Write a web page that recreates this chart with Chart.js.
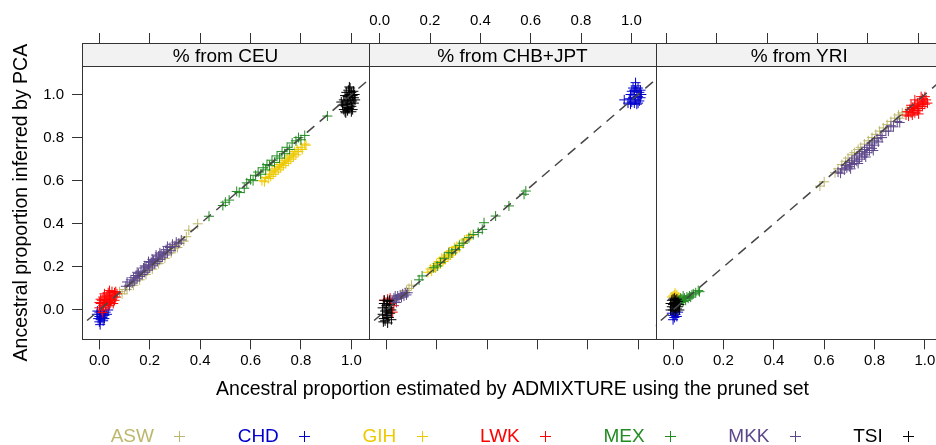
<!DOCTYPE html>
<html>
<head>
<meta charset="utf-8">
<script src="https://cdn.jsdelivr.net/npm/chart.js@4.4.0/dist/chart.umd.min.js"></script>
<style>
  html, body { margin: 0; padding: 0; overflow: hidden; background: #fff; }
  #wrap { position: relative; width: 936px; height: 445px; }
</style>
</head>
<body>
<div id="wrap"><canvas id="chart" width="936" height="445"></canvas></div>
<script>
// groups, colours and panels
const populations = ["ASW", "CHD", "GIH", "LWK", "MEX", "MKK", "TSI"];
const popColors = ["#BDB76B", "#0000CD", "#EEC900", "#FF0000", "#228B22", "#5D478B", "#000000"];
const panelNames = ["% from CEU", "% from CHB+JPT", "% from YRI"];
const xTicks = [0, 0.2, 0.4, 0.6, 0.8, 1.0];
const yTicks = [0, 0.2, 0.4, 0.6, 0.8, 1.0];
const refLine = [-0.1, 1.1];

// [ADMIXTURE estimate, PCA estimate] per individual
const ceuASW = [[0.065,0.06],[0.08,0.085],[0.09,0.075],[0.1,0.095],[0.11,0.095],[0.12,0.11],[0.135,0.115],[0.145,0.135],[0.16,0.14],[0.17,0.16],[0.185,0.165],[0.195,0.185],[0.21,0.19],[0.22,0.21],[0.235,0.215],[0.245,0.235],[0.26,0.24],[0.27,0.26],[0.285,0.265],[0.295,0.285],[0.31,0.29],[0.32,0.31],[0.335,0.32],[0.345,0.34],[0.355,0.37],[0.39,0.4],[0.3,0.3],[0.2,0.2]];
const ceuCHD = [[-0.01,-0.02],[-0.005,-0.04],[0.0,-0.01],[0.0,-0.03],[0.0,-0.055],[0.005,-0.02],[0.005,-0.045],[0.01,-0.005],[0.01,-0.035],[0.015,-0.015],[0.015,-0.05],[0.02,-0.025],[0.02,-0.04],[0.025,-0.01],[0.03,-0.02],[0.003,-0.068],[-0.008,-0.005],[0.035,0.0]];
const ceuGIH = [[0.645,0.6],[0.655,0.595],[0.66,0.615],[0.67,0.61],[0.675,0.63],[0.68,0.62],[0.685,0.645],[0.69,0.63],[0.695,0.655],[0.7,0.64],[0.705,0.665],[0.71,0.65],[0.715,0.675],[0.72,0.66],[0.725,0.685],[0.73,0.67],[0.735,0.695],[0.74,0.68],[0.745,0.705],[0.75,0.69],[0.755,0.715],[0.76,0.7],[0.765,0.725],[0.77,0.71],[0.775,0.735],[0.78,0.72],[0.785,0.745],[0.79,0.735],[0.8,0.755],[0.805,0.745],[0.815,0.77],[0.82,0.765]];
const ceuLWK = [[0.0,0.01],[0.005,0.03],[0.01,0.0],[0.01,0.045],[0.015,0.02],[0.015,0.06],[0.02,0.035],[0.02,0.075],[0.025,0.01],[0.025,0.05],[0.03,0.065],[0.03,0.025],[0.035,0.04],[0.035,0.08],[0.04,0.055],[0.04,0.02],[0.045,0.07],[0.045,0.035],[0.05,0.085],[0.05,0.05],[0.055,0.065],[0.055,0.03],[0.06,0.08],[0.06,0.045],[0.065,0.06],[0.07,0.075],[0.005,0.05],[0.0,0.035],[0.012,-0.012],[0.03,0.045],[0.04,0.09],[0.065,0.085]];
const ceuMEX = [[0.435,0.435],[0.49,0.485],[0.5,0.5],[0.515,0.51],[0.545,0.55],[0.555,0.545],[0.575,0.565],[0.585,0.59],[0.6,0.605],[0.61,0.6],[0.62,0.625],[0.63,0.64],[0.64,0.63],[0.65,0.66],[0.66,0.65],[0.665,0.675],[0.675,0.67],[0.685,0.695],[0.695,0.685],[0.705,0.715],[0.715,0.705],[0.725,0.735],[0.735,0.725],[0.745,0.755],[0.755,0.745],[0.765,0.775],[0.78,0.785],[0.79,0.8],[0.8,0.79],[0.815,0.81],[0.905,0.9]];
const ceuMKK = [[0.105,0.11],[0.11,0.13],[0.12,0.115],[0.125,0.14],[0.13,0.125],[0.135,0.15],[0.14,0.135],[0.145,0.16],[0.15,0.145],[0.155,0.17],[0.16,0.155],[0.165,0.18],[0.17,0.165],[0.175,0.195],[0.18,0.175],[0.185,0.2],[0.19,0.185],[0.195,0.21],[0.2,0.195],[0.205,0.22],[0.21,0.205],[0.215,0.23],[0.22,0.215],[0.225,0.24],[0.23,0.225],[0.235,0.25],[0.24,0.235],[0.245,0.26],[0.25,0.245],[0.255,0.27],[0.26,0.255],[0.265,0.28],[0.27,0.265],[0.28,0.29],[0.285,0.275],[0.29,0.305],[0.3,0.295],[0.305,0.315],[0.315,0.31],[0.325,0.325],[0.15,0.175],[0.18,0.205],[0.21,0.235],[0.24,0.265],[0.27,0.295],[0.195,0.225],[0.225,0.255]];
const ceuTSI = [[0.965,0.95],[0.97,0.975],[0.97,0.93],[0.975,0.995],[0.975,0.955],[0.978,0.915],[0.98,1.01],[0.98,0.97],[0.982,0.94],[0.985,0.99],[0.985,0.955],[0.988,1.02],[0.99,0.975],[0.99,0.935],[0.993,1.0],[0.995,0.96],[0.995,1.03],[0.998,0.985],[1.0,0.945],[1.0,1.01],[1.003,0.97],[1.005,0.995],[1.005,0.93],[1.008,1.015],[1.01,0.96],[1.01,0.985],[1.013,1.0],[1.015,0.975],[0.985,0.925],[0.96,0.965],[1.0,0.92],[0.992,1.035],[0.975,0.92]];

const chbASW = [[0.06,0.07],[0.08,0.09],[0.09,0.1],[0.1,0.115],[0.035,0.05]];
const chbCHD = [[0.965,0.98],[0.97,1.0],[0.975,0.965],[0.975,1.015],[0.98,0.985],[0.98,1.03],[0.985,0.96],[0.985,1.0],[0.99,1.04],[0.99,0.975],[0.995,1.015],[0.995,0.955],[1.0,0.99],[1.0,1.03],[1.005,0.97],[1.005,1.01],[1.01,0.985],[1.01,1.02],[1.013,1.0],[0.99,1.055],[0.945,0.975],[0.96,0.96],[0.97,0.955],[1.0,0.96],[0.985,1.02]];
const chbGIH = [[0.165,0.175],[0.175,0.19],[0.18,0.18],[0.19,0.205],[0.195,0.195],[0.2,0.215],[0.205,0.205],[0.21,0.225],[0.215,0.215],[0.22,0.24],[0.225,0.225],[0.23,0.245],[0.235,0.235],[0.24,0.255],[0.245,0.245],[0.25,0.27],[0.255,0.255],[0.26,0.275],[0.265,0.265],[0.27,0.29],[0.275,0.275],[0.28,0.295],[0.29,0.29],[0.3,0.31],[0.31,0.325],[0.32,0.33],[0.335,0.345]];
const chbLWK = [[0.005,0.05],[-0.01,0.045],[0.025,-0.01],[0.015,0.055],[0.03,0.02],[0.02,0.03]];
const chbMEX = [[0.13,0.14],[0.142,0.158],[0.188,0.196],[0.202,0.204],[0.215,0.22],[0.23,0.24],[0.248,0.266],[0.26,0.265],[0.275,0.28],[0.29,0.3],[0.305,0.31],[0.328,0.336],[0.345,0.35],[0.365,0.36],[0.381,0.374],[0.388,0.405],[0.434,0.436],[0.487,0.483],[0.547,0.537],[0.554,0.552]];
const chbMKK = [[0.025,0.04],[0.03,0.055],[0.04,0.05],[0.045,0.065],[0.05,0.055],[0.055,0.07],[0.06,0.06],[0.065,0.075],[0.07,0.065],[0.075,0.08],[0.08,0.07],[0.085,0.08],[0.04,0.035],[0.035,0.065]];
const chbTSI = [[-0.015,-0.02],[-0.015,0.01],[-0.01,-0.04],[-0.01,0.03],[-0.005,-0.005],[-0.005,-0.05],[0.0,0.02],[0.0,-0.025],[0.005,0.04],[0.005,-0.01],[0.005,-0.06],[0.01,0.01],[0.01,-0.035],[0.015,0.025],[0.015,-0.015],[0.02,0.0],[0.02,-0.045],[-0.012,-0.055],[0.0,0.0],[0.012,0.045],[-0.008,0.045]];

const yriASW = [[0.583,0.575],[0.6,0.595],[0.643,0.637],[0.655,0.655],[0.67,0.675],[0.685,0.69],[0.695,0.705],[0.71,0.72],[0.72,0.73],[0.735,0.745],[0.745,0.755],[0.76,0.77],[0.775,0.785],[0.79,0.8],[0.805,0.815],[0.82,0.83],[0.835,0.845],[0.85,0.86],[0.865,0.875],[0.88,0.89],[0.895,0.905],[0.91,0.915],[0.925,0.92],[0.9,0.89]];
const yriCHD = [[-0.005,-0.015],[0.0,-0.025],[0.005,-0.035],[0.01,-0.02],[0.015,-0.03],[0.0,-0.045],[0.02,-0.01],[0.008,-0.01]];
const yriGIH = [[-0.005,0.06],[0.0,0.065],[0.005,0.07],[0.01,0.06],[0.015,0.07],[0.02,0.06],[0.008,0.078]];
const yriLWK = [[0.925,0.905],[0.93,0.92],[0.935,0.9],[0.94,0.93],[0.945,0.915],[0.95,0.94],[0.95,0.905],[0.955,0.925],[0.96,0.95],[0.96,0.915],[0.965,0.935],[0.97,0.96],[0.97,0.925],[0.975,0.945],[0.98,0.97],[0.98,0.935],[0.985,0.955],[0.99,0.98],[0.99,0.945],[0.995,0.965],[1.0,0.99],[1.0,0.955],[1.005,0.975],[1.01,0.96],[0.96,0.975],[0.945,0.95],[0.985,0.99],[0.975,0.91]];
const yriMEX = [[0.02,0.03],[0.025,0.045],[0.03,0.035],[0.035,0.05],[0.04,0.04],[0.045,0.055],[0.05,0.045],[0.055,0.06],[0.06,0.055],[0.065,0.065],[0.07,0.06],[0.075,0.07],[0.08,0.075],[0.09,0.08],[0.1,0.09],[0.105,0.085],[0.04,0.065],[0.03,0.055]];
const yriMKK = [[0.655,0.64],[0.665,0.635],[0.67,0.655],[0.68,0.65],[0.685,0.67],[0.69,0.66],[0.7,0.685],[0.7,0.665],[0.71,0.695],[0.71,0.675],[0.72,0.705],[0.72,0.68],[0.73,0.715],[0.73,0.69],[0.74,0.725],[0.74,0.7],[0.75,0.735],[0.75,0.71],[0.76,0.745],[0.76,0.72],[0.77,0.755],[0.77,0.73],[0.78,0.765],[0.78,0.74],[0.79,0.775],[0.79,0.75],[0.8,0.785],[0.8,0.765],[0.81,0.795],[0.815,0.78],[0.825,0.81],[0.83,0.8],[0.845,0.83],[0.855,0.83],[0.865,0.855],[0.875,0.85],[0.89,0.875],[0.9,0.87],[0.735,0.68],[0.765,0.71],[0.795,0.74],[0.705,0.655]];
const yriTSI = [[-0.01,0.0],[-0.01,0.03],[-0.005,0.015],[-0.005,0.045],[0.0,0.0],[0.0,0.025],[0.0,0.05],[0.005,0.01],[0.005,0.035],[0.01,-0.005],[0.01,0.02],[0.01,0.045],[0.015,0.005],[0.015,0.03],[0.02,0.015],[0.02,0.04],[0.025,0.025],[0.005,0.055],[0.015,0.05],[0.025,0.0]];

const panelData = [
  [ceuASW, ceuCHD, ceuGIH, ceuLWK, ceuMEX, ceuMKK, ceuTSI],
  [chbASW, chbCHD, chbGIH, chbLWK, chbMEX, chbMKK, chbTSI],
  [yriASW, yriCHD, yriGIH, yriLWK, yriMEX, yriMKK, yriTSI]
];

const FONT = '"Liberation Sans", Arial, Helvetica, sans-serif';
Chart.defaults.font.family = FONT;
Chart.defaults.color = "#000";

// the third panel runs a little past the right edge of the page, so it gets less width
const panelWidths = [287, 286.7, 280.3];
const xMin = -0.069;
const xMaxes = [1.07, 1.07, 1.044];
const yMin = -0.136, yMax = 1.239;   // top part of the y range sits under the strips
const STRIP_H = 23;
const FRAME = "#333";

function noPadding(s) {
  s.paddingLeft = 0; s.paddingRight = 0; s.paddingTop = 0; s.paddingBottom = 0;
}

function xAxis(p, pos, showLabels) {
  return {
    type: "linear",
    position: pos,
    stack: pos,
    stackWeight: panelWidths[p],
    min: xMin,
    max: xMaxes[p],
    afterBuildTicks: s => { s.ticks = xTicks.map(v => ({ value: v })); },
    afterFit: s => { s.height = pos === "top" ? 43 : 105.7; noPadding(s); },
    ticks: {
      display: showLabels,
      font: { size: 15 },
      color: "#000",
      padding: 3,
      maxRotation: 0,
      autoSkip: false,
      callback: v => v.toFixed(1)
    },
    grid: { drawOnChartArea: false, drawTicks: true, tickLength: 10, tickColor: FRAME, tickWidth: 1 },
    border: { display: true, color: FRAME, width: 1 }
  };
}

const datasets = [];
panelData.forEach((groups, p) => {
  groups.forEach((pts, g) => {
    datasets.push({
      label: populations[g],
      xAxisID: "x" + (p + 1),
      yAxisID: "y",
      data: pts.map(d => ({ x: d[0], y: d[1] })),
      pointStyle: "cross",
      pointRadius: 5,
      borderWidth: 1,
      borderColor: popColors[g],
      backgroundColor: popColors[g],
      order: populations.length - g,
      clip: 0
    });
  });
  datasets.push({
    label: "y = x",
    xAxisID: "x" + (p + 1),
    yAxisID: "y",
    data: refLine.map(v => ({ x: v, y: v })),
    showLine: true,
    pointRadius: 0,
    borderColor: "#474747",
    borderWidth: 1.5,
    borderDash: [10, 7],
    order: 0,
    clip: 0
  });
});

const latticeDecor = {
  id: "latticeDecor",
  afterDraw(chart) {
    const ctx = chart.ctx;
    const area = chart.chartArea;
    const t = Math.round(area.top) + 0.5;
    const b = Math.round(area.bottom) + 0.5;
    const sb = Math.round(area.top + STRIP_H) + 0.5;
    ctx.save();
    panelNames.forEach((name, i) => {
      const sc = chart.scales["x" + (i + 1)];
      const l = Math.round(sc.left) + 0.5;
      const r = Math.round(sc.right) + 0.5;
      // strip centred on the full panel width, as if the last panel were not cut
      const fullRight = sc.left + panelWidths[0];
      ctx.fillStyle = "#f2f2f2";
      ctx.fillRect(l, t, r - l, sb - t);
      ctx.strokeStyle = FRAME;
      ctx.lineWidth = 1;
      ctx.strokeRect(l, t, r - l, b - t);
      ctx.beginPath();
      ctx.moveTo(l, sb);
      ctx.lineTo(r, sb);
      ctx.stroke();
      ctx.fillStyle = "#000";
      ctx.font = "19px " + FONT;
      ctx.textAlign = "center";
      ctx.textBaseline = "alphabetic";
      ctx.fillText(name, (sc.left + fullRight) / 2, area.top + 18.7);
    });

    // axis titles
    const fullArea = area.left + panelWidths[0] * 3;
    ctx.font = "19.5px " + FONT;
    ctx.fillStyle = "#000";
    ctx.textAlign = "center";
    ctx.fillText("Ancestral proportion estimated by ADMIXTURE using the pruned set",
      (area.left + fullArea) / 2, area.bottom + 55.7);
    ctx.save();
    ctx.translate(26.7, (area.top + STRIP_H + area.bottom) / 2);
    ctx.rotate(-Math.PI / 2);
    ctx.fillText("Ancestral proportion inferred by PCA", 0, 0);
    ctx.restore();

    // key: name then a "+" symbol, one column per group
    ctx.font = "19px " + FONT;
    let x = 110.7;
    const base = 442.3;
    ctx.textAlign = "left";
    ctx.lineWidth = 1;
    populations.forEach((name, g) => {
      ctx.fillStyle = popColors[g];
      ctx.strokeStyle = popColors[g];
      ctx.fillText(name, x, base);
      const w = ctx.measureText(name).width;
      const cx = Math.round(x + w + 25.5) + 0.5;
      const cy = Math.round(base - 6.5) + 0.5;
      ctx.beginPath();
      ctx.moveTo(cx - 5.5, cy); ctx.lineTo(cx + 5.5, cy);
      ctx.moveTo(cx, cy - 5.5); ctx.lineTo(cx, cy + 5.5);
      ctx.stroke();
      x += w + 83.7;
    });
    ctx.restore();
  }
};

new Chart(document.getElementById("chart"), {
  type: "scatter",
  data: { datasets },
  options: {
    responsive: false,
    animation: false,
    devicePixelRatio: 1,
    events: [],
    layout: { padding: 0, autoPadding: false },
    plugins: { legend: { display: false }, tooltip: { enabled: false } },
    scales: {
      x1: xAxis(0, "bottom", true),
      x2: xAxis(1, "bottom", false),
      x3: xAxis(2, "bottom", true),
      x1t: xAxis(0, "top", false),
      x2t: xAxis(1, "top", true),
      x3t: xAxis(2, "top", false),
      y: {
        type: "linear",
        position: "left",
        min: yMin,
        max: yMax,
        afterBuildTicks: s => { s.ticks = yTicks.map(v => ({ value: v })); },
        afterFit: s => { s.width = 82; noPadding(s); },
        ticks: { font: { size: 15 }, color: "#000", padding: 8, callback: v => v.toFixed(1) },
        grid: { drawOnChartArea: false, drawTicks: true, tickLength: 10, tickColor: FRAME, tickWidth: 1 },
        border: { display: true, color: FRAME, width: 1 }
      }
    }
  },
  plugins: [latticeDecor]
});
</script>
</body>
</html>
